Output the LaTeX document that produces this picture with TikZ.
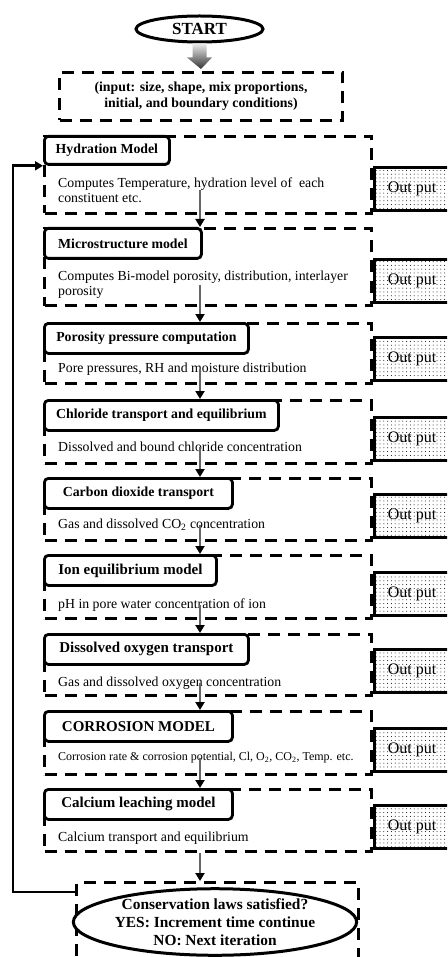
\documentclass[tikz,border=0pt]{standalone}
\usepackage{fontspec}
\setmainfont{Liberation Serif}
\usetikzlibrary{arrows.meta,shapes.geometric,patterns.meta,calc}
\tikzset{
	diagram/.style={x=1pt, y=-1pt},
	okvir/.style={draw, line width=3pt, dash pattern=on 12pt off 8pt, anchor=north west,
	              minimum width=327pt, inner sep=0pt},
	naslov/.style={draw, line width=2.8pt, rounded corners=4pt, fill=white, anchor=north west,
	               minimum height=30pt, inner sep=0pt, font=\bfseries\fontsize{13.8}{16}\selectfont},
	vecji/.style={font=\bfseries\fontsize{15}{17}\selectfont},
	opis/.style={anchor=west, align=left, inner sep=0pt, font=\fontsize{13.8}{15}\selectfont},
	izhod/.style={draw, line width=3pt, pattern={Dots[distance=3.8pt, radius=0.5pt]},
	              anchor=south west, minimum width=75pt, minimum height=43pt, inner sep=0pt,
	              font=\fontsize{16}{18}\selectfont},
	elipsa/.style={draw, ellipse, line width=3pt, fill=white, inner sep=0pt, align=center},
	tok/.style={-{Triangle[length=8pt,width=9pt,color=black]}, line width=2pt, draw=black!60},
	povratek/.style={-{Triangle[length=8pt,width=9pt]}, line width=2.6pt},
}

\begin{document}
\begin{tikzpicture}[diagram]
\useasboundingbox (0,0) rectangle (447,957);
\clip (0,0) rectangle (447,957);

% ---------- zacetek ----------
\node[elipsa, minimum width=127pt, minimum height=26pt,
      font=\bfseries\fontsize{17}{19}\selectfont] (start) at (199.5,29) {START};
\node[okvir, minimum width=283pt, minimum height=48pt, align=center,
      font=\bfseries\fontsize{13.8}{16}\selectfont] (vhod) at (58,71)
    {(input: size, shape, mix proportions,\\initial, and boundary conditions)};
\coordinate (os) at (200,0);

% ---------- okvirji modulov ----------
\node[okvir, minimum height=77pt] (f1) at (43,135) {};
\node[okvir, minimum height=77pt] (f2) at (43,227) {};
\node[okvir, minimum height=60pt] (f3) at (43,322) {};
\node[okvir, minimum height=63pt] (f4) at (43,399) {};
\node[okvir, minimum height=62pt] (f5) at (43,477) {};
\node[okvir, minimum height=63pt] (f6) at (43,554) {};
\node[okvir, minimum height=61pt] (f7) at (43,633) {};
\node[okvir, minimum height=63pt] (f8) at (43,710) {};
\node[okvir, minimum height=62pt] (f9) at (43,788) {};

% ---------- naslovi ----------
\node[naslov, minimum width=125pt, minimum height=28pt] (t1) at (f1.north west) {Hydration Model};
\node[naslov, minimum width=157pt] (t2) at (f2.north west) {Microstructure model};
\node[naslov, minimum width=204pt] (t3) at (f3.north west) {Porosity pressure computation};
\node[naslov, minimum width=234pt] (t4) at (f4.north west) {Chloride transport and equilibrium};
\node[naslov, minimum width=188pt] (t5) at (f5.north west) {Carbon dioxide transport};
\node[naslov, vecji, minimum width=172pt] (t6) at (f6.north west) {Ion equilibrium model};
\node[naslov, vecji, minimum width=204pt] (t7) at (f7.north west) {Dissolved oxygen transport};
\node[naslov, vecji, minimum width=188pt] (t8) at (f8.north west) {CORROSION MODEL};
\node[naslov, vecji, minimum width=188pt] (t9) at (f9.north west) {Calcium leaching model};

% ---------- opisi ----------
\node[opis] (d1) at (58,190) {Computes Temperature, hydration level of~ each\\constituent etc.};
\node[opis] (d2) at (58,285) {Computes Bi-model porosity, distribution, interlayer\\porosity};
\node[opis] (d3) at (58,369) {Pore pressures, RH and moisture distribution};
\node[opis] (d4) at (58,447) {Dissolved and bound chloride concentration};
\node[opis] (d5) at (58,525) {Gas and dissolved CO\textsubscript{2} concentration};
\node[opis] (d6) at (58,605) {pH in pore water concentration of ion};
\node[opis] (d7) at (58,683) {Gas and dissolved oxygen concentration};
\node[opis, font=\fontsize{12}{14}\selectfont] (d8) at (58,758)
    {Corrosion rate \& corrosion potential, Cl, O\textsubscript{2}, CO\textsubscript{2}, Temp. etc.};
\node[opis] (d9) at (58,838) {Calcium transport and equilibrium};

% ---------- izhodi ----------
\node[izhod] (o1) at ([yshift=3pt]f1.south east) {Out put};
\node[izhod] (o2) at ([yshift=3pt]f2.south east) {Out put};
\node[izhod] (o3) at ([yshift=3pt]f3.south east) {Out put};
\node[izhod] (o4) at ([yshift=3pt]f4.south east) {Out put};
\node[izhod] (o5) at ([yshift=3pt]f5.south east) {Out put};
\node[izhod] (o6) at ([yshift=3pt]f6.south east) {Out put};
\node[izhod] (o7) at ([yshift=3pt]f7.south east) {Out put};
\node[izhod] (o8) at ([yshift=3pt]f8.south east) {Out put};
\node[izhod] (o9) at ([yshift=3pt]f9.south east) {Out put};

% ---------- preverjanje ----------
\node[okvir, minimum width=282pt, minimum height=95pt] (kbox) at (75,881) {};
\node[elipsa, minimum width=280pt, minimum height=66pt,
      font=\bfseries\fontsize{15.4}{18}\selectfont] (pogoj) at (215,922)
    {Conservation laws satisfied?\\YES: Increment time continue\\NO: Next iteration};

% ---------- povezave ----------
\shade[top color=gray!15, bottom color=black!80]
    ($(start.south)+(-7,0)$) -- ($(start.south)+(7,0)$) -- ($(start.south)+(7,14)$)
    -- ($(start.south)+(12.5,14)$) -- ($(vhod.north)+(0,-2)$)
    -- ($(start.south)+(-12.5,14)$) -- ($(start.south)+(-7,14)$) -- cycle;

\draw[tok] (os |- d1.center) -- (os |- f2.north);
\draw[tok] (os |- d2.center) -- (os |- f3.north);
\draw[tok] (os |- d3.center) -- (os |- f4.north);
\draw[tok] (os |- d4.center) -- (os |- f5.north);
\draw[tok] (os |- d5.center) -- (os |- f6.north);
\draw[tok] (os |- d6.center) -- (os |- f7.north);
\draw[tok] (os |- d7.center) -- (os |- f8.north);
\draw[tok] (os |- d8.center) -- (os |- f9.north);
\draw[tok] (os |- f9.south) -- (os |- kbox.north);

\draw[povratek] ([yshift=-11pt]kbox.north west) -- ++(-62,0) |- (t1.south west);

\end{tikzpicture}
\end{document}
